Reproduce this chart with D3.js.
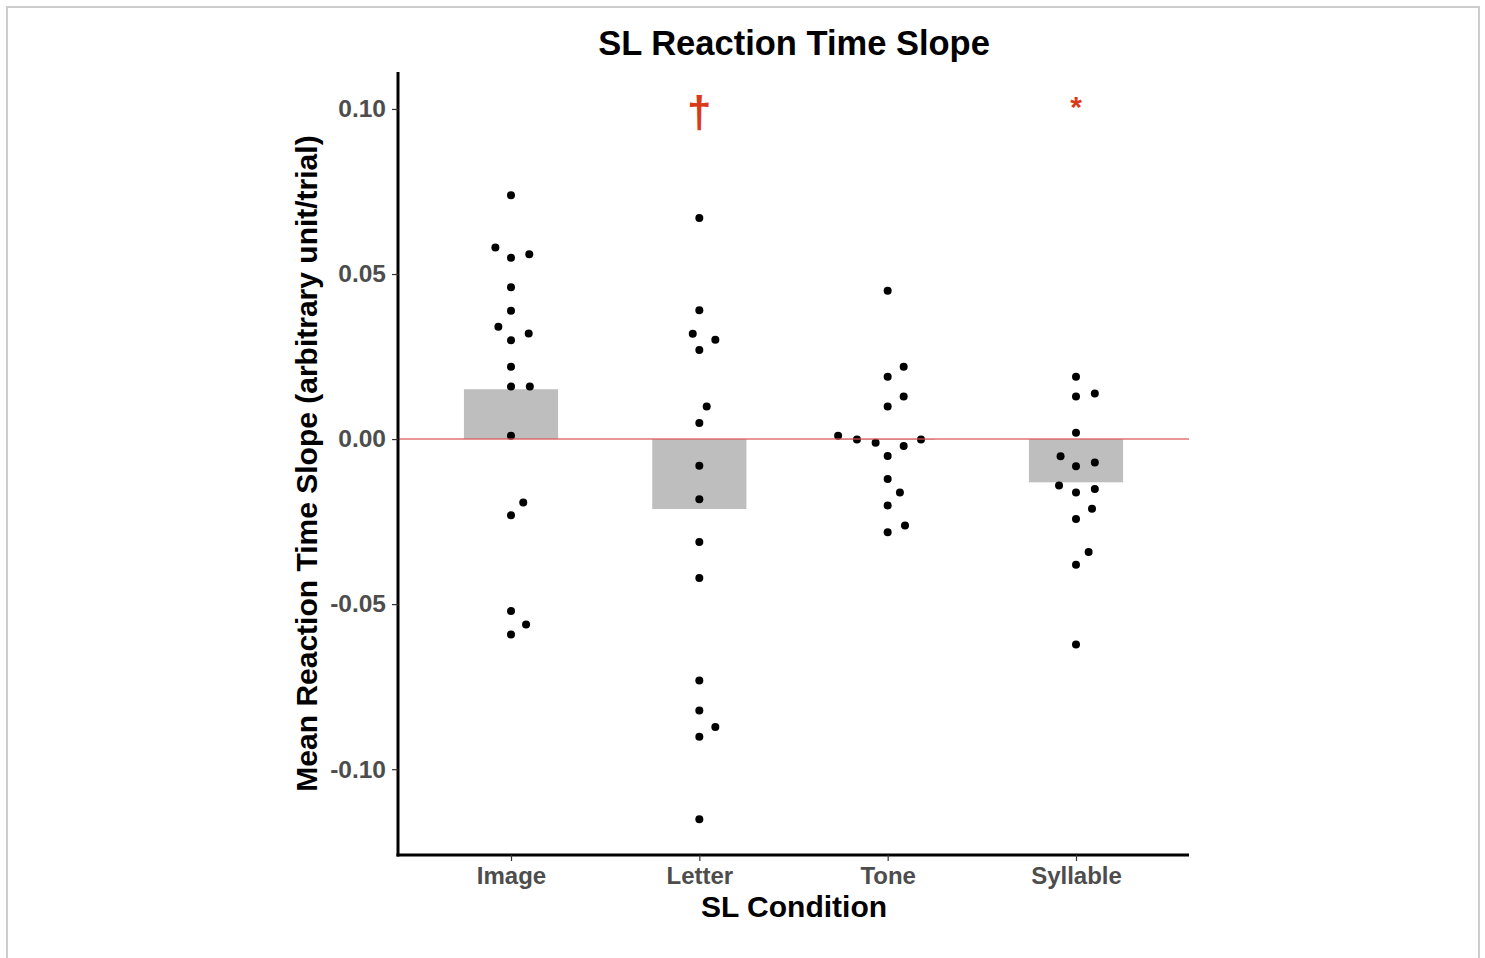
<!DOCTYPE html>
<html>
<head>
<meta charset="utf-8">
<script src="https://cdn.jsdelivr.net/npm/d3@7"></script>
<style>
  body { margin: 0; background: #fff; }
  svg { display: block; font-family: "Liberation Sans", Arial, sans-serif; }
</style>
</head>
<body>
<svg id="chart" width="1485" height="958"></svg>
<script>
// categories and bar heights (mean slope)
const conditions = ["Image", "Letter", "Tone", "Syllable"];
const means = [0.0151, -0.0212, -0.0002, -0.0131];
const markers = ["", "\u2020", "", "*"];

// individual slopes; jitter is horizontal offset in category units
const imageVals   = [0.0739, 0.058, 0.056, 0.0549, 0.046, 0.0389, 0.034, 0.032, 0.0299, 0.0219, 0.0159, 0.0159, 0.001, -0.0192, -0.0231, -0.0521, -0.0562, -0.0592];
const imageJit    = [0, -0.083, 0.097, 0, 0, 0, -0.067, 0.094, 0, 0, 0, 0.1, 0, 0.065, 0, 0, 0.08, 0];
const letterVals  = [0.067, 0.039, 0.0319, 0.0301, 0.027, 0.0099, 0.0049, -0.0081, -0.0182, -0.0312, -0.0421, -0.0731, -0.0822, -0.0872, -0.0902, -0.1152];
const letterJit   = [0, 0, -0.035, 0.085, 0, 0.039, 0, 0, 0, 0, 0, 0, 0, 0.085, 0, 0];
const toneVals    = [0.0449, 0.0219, 0.0189, 0.0129, 0.0099, 0.001, -0.0001, -0.0011, -0.0001, -0.0021, -0.0051, -0.0121, -0.0162, -0.0201, -0.0262, -0.0282];
const toneJit     = [0, 0.085, 0, 0.085, 0, -0.263, -0.163, -0.064, 0.177, 0.085, 0, 0, 0.065, 0, 0.092, 0];
const syllVals    = [0.0189, 0.0138, 0.0129, 0.0019, -0.0052, -0.0071, -0.0082, -0.0141, -0.0151, -0.0162, -0.0211, -0.0242, -0.0342, -0.0381, -0.0622];
const syllJit     = [0, 0.1, 0, 0, -0.082, 0.1, 0, -0.09, 0.1, 0, 0.085, 0, 0.067, 0, 0];

const yTicks = [-0.10, -0.05, 0.00, 0.05, 0.10];

const groups = [
    { cond: "Image", vals: imageVals, jit: imageJit },
    { cond: "Letter", vals: letterVals, jit: letterJit },
    { cond: "Tone", vals: toneVals, jit: toneJit },
    { cond: "Syllable", vals: syllVals, jit: syllJit }
];
const points = [];
groups.forEach(g => g.vals.forEach((v, i) => points.push({ cond: g.cond, value: v, jit: g.jit[i] })));

const svg = d3.select("#chart");
const plotLeft = 398, plotRight = 1189, plotTop = 72, plotBottom = 855;

// outer frame
svg.append("rect")
    .attr("x", 7).attr("y", 7)
    .attr("width", 1472).attr("height", 960)
    .attr("fill", "none")
    .attr("stroke", "#cccccc")
    .attr("stroke-width", 2);

const x = d3.scalePoint()
    .domain(conditions)
    .range([plotLeft, plotRight])
    .padding(0.6);
const step = x.step();

const y = d3.scaleLinear()
    .domain([-0.126, 0.1112])
    .range([plotBottom, plotTop]);

// bars
svg.append("g")
    .selectAll("rect")
    .data(conditions)
    .enter()
    .append("rect")
    .attr("x", d => x(d) - step * 0.25)
    .attr("width", step * 0.5)
    .attr("y", (d, i) => y(Math.max(0, means[i])))
    .attr("height", (d, i) => Math.abs(y(means[i]) - y(0)))
    .attr("fill", "#bebebe");

// points
svg.append("g")
    .selectAll("circle")
    .data(points)
    .enter()
    .append("circle")
    .attr("cx", d => x(d.cond) + d.jit * step)
    .attr("cy", d => y(d.value))
    .attr("r", 4)
    .attr("fill", "#000");

// zero reference line
svg.append("line")
    .attr("x1", plotLeft).attr("x2", plotRight)
    .attr("y1", y(0)).attr("y2", y(0))
    .attr("stroke", "#dc5050")
    .attr("stroke-opacity", 0.6)
    .attr("stroke-width", 2);

// significance markers
svg.append("g")
    .selectAll("text")
    .data(conditions)
    .enter()
    .append("text")
    .attr("x", d => x(d))
    .attr("y", (d, i) => i === 1 ? y(0.1) + 18 : y(0.1) + 8)
    .attr("text-anchor", "middle")
    .attr("font-size", (d, i) => i === 1 ? 44 : 30)
    .attr("font-weight", "bold")
    .attr("fill", "#d93a1a")
    .text((d, i) => markers[i]);

// axes
const xAxis = svg.append("g")
    .attr("transform", `translate(0,${plotBottom})`)
    .call(d3.axisBottom(x).tickSizeInner(6).tickSizeOuter(0).tickPadding(6));
xAxis.select(".domain").attr("stroke", "#000").attr("stroke-width", 3)
    .attr("d", `M${plotLeft - 1.5},0H${plotRight}`);
xAxis.selectAll(".tick line").attr("stroke", "#333").attr("stroke-width", 1.2);
xAxis.selectAll(".tick text")
    .attr("fill", "#4d4d4d")
    .attr("font-size", 24)
    .attr("font-weight", "bold")
    .attr("font-family", "Liberation Sans, Arial, sans-serif");

const yAxis = svg.append("g")
    .attr("transform", `translate(${plotLeft},0)`)
    .call(d3.axisLeft(y).tickValues(yTicks).tickFormat(d => d.toFixed(2)).tickSizeInner(6).tickSizeOuter(0).tickPadding(6));
yAxis.select(".domain").attr("stroke", "#000").attr("stroke-width", 3)
    .attr("d", `M0,${plotTop}V${plotBottom + 1.5}`);
yAxis.selectAll(".tick line").attr("stroke", "#333").attr("stroke-width", 1.2);
yAxis.selectAll(".tick text")
    .attr("fill", "#4d4d4d")
    .attr("font-size", 24.5)
    .attr("font-weight", "bold")
    .attr("font-family", "Liberation Sans, Arial, sans-serif");

// titles
svg.append("text")
    .attr("x", 794).attr("y", 55)
    .attr("text-anchor", "middle")
    .attr("font-size", 34.5)
    .attr("font-weight", "bold")
    .text("SL Reaction Time Slope");

svg.append("text")
    .attr("x", 794).attr("y", 917)
    .attr("text-anchor", "middle")
    .attr("font-size", 30)
    .attr("font-weight", "bold")
    .text("SL Condition");

svg.append("text")
    .attr("transform", `translate(317,${(plotTop + plotBottom) / 2}) rotate(-90)`)
    .attr("text-anchor", "middle")
    .attr("font-size", 30)
    .attr("font-weight", "bold")
    .text("Mean Reaction Time Slope (arbitrary unit/trial)");
</script>
</body>
</html>
